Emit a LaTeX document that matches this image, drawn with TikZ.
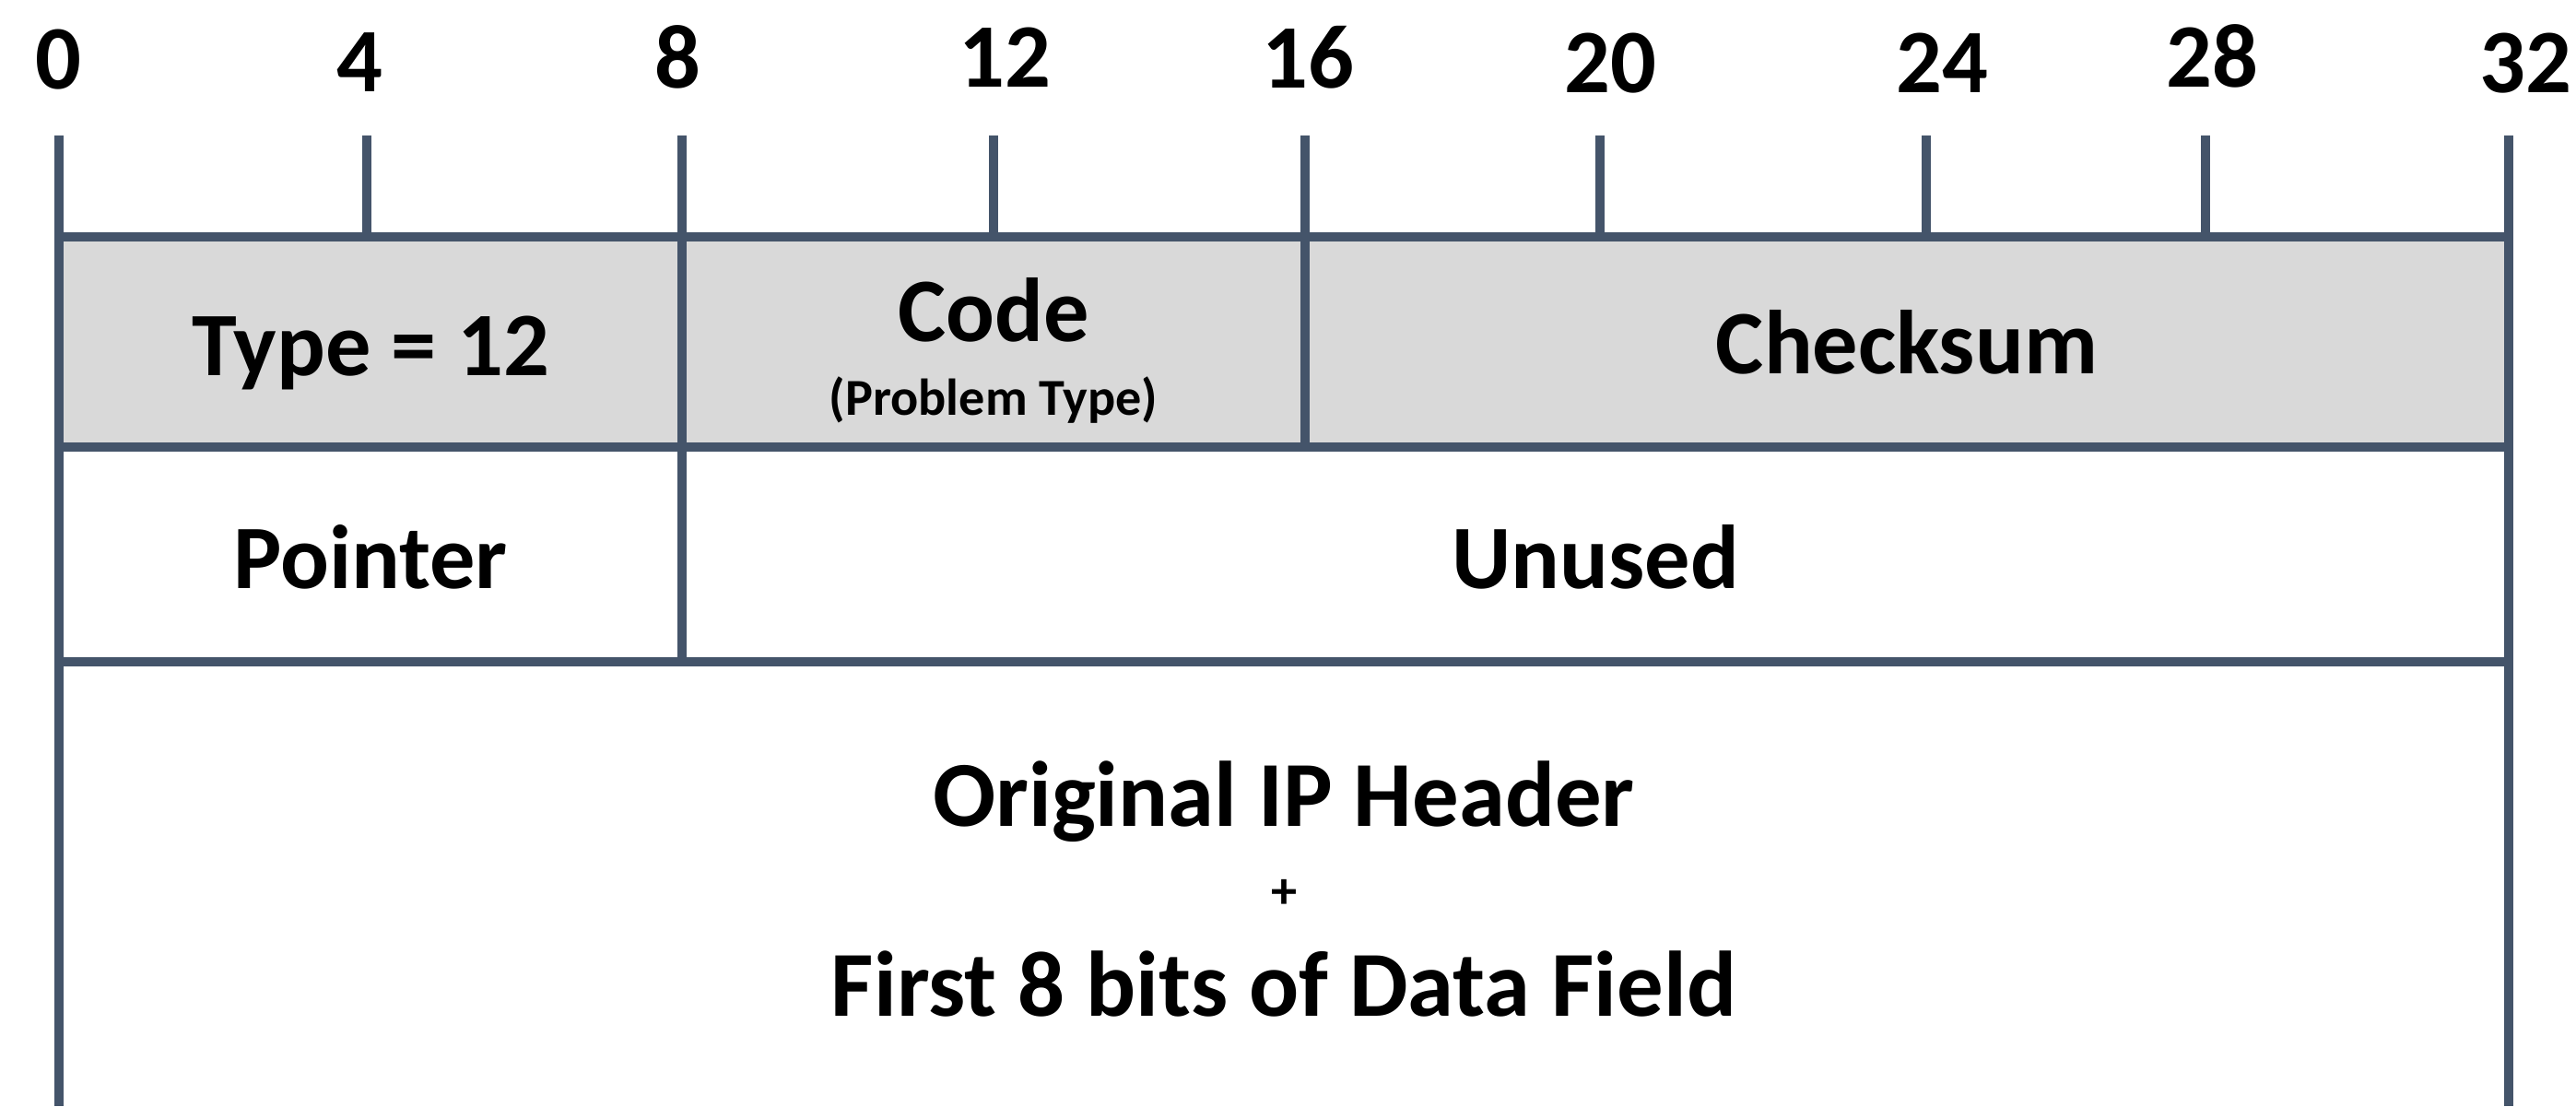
\documentclass[tikz,border=0pt]{standalone}
\usepackage{fontspec}
\setmainfont{Carlito}
\definecolor{gridline}{HTML}{44546A}
\definecolor{headfill}{HTML}{D9D9D9}
\begin{document}
\begin{tikzpicture}

\tikzstyle{field} = [font=\fontsize{28}{30}\selectfont\bfseries, text=black, anchor=base, inner sep=0pt]
\tikzstyle{bigfield} = [font=\fontsize{28.7}{30}\selectfont\bfseries, text=black, anchor=base, inner sep=0pt]
\tikzstyle{note} = [font=\fontsize{16}{18}\selectfont\bfseries, text=black, anchor=base, inner sep=0pt]
\tikzstyle{bitnum} = [font=\fontsize{28}{30}\selectfont\bfseries, text=black, anchor=base, inner sep=0pt]
\tikzstyle{rule} = [draw=gridline, line width=2.8pt]

\useasboundingbox (0,0) rectangle (27.95,-12);

% grey first word
\fill [headfill] (0.64,-2.57) rectangle (27.22,-4.85);

% bit numbers
\node (n0) [bitnum] at (0.63,-0.96) {0};
\node (n4) [bitnum] at (3.90,-0.99) {4};
\node (n8) [bitnum] at (7.35,-0.95) {8};
\node (n12) [bitnum] at (10.90,-0.94) {12};
\node (n16) [bitnum] at (14.19,-0.95) {16};
\node (n20) [bitnum] at (17.47,-1.00) {20};
\node (n24) [bitnum] at (21.07,-1.00) {24};
\node (n28) [bitnum] at (24.00,-0.94) {28};
\node (n32) [bitnum] at (27.40,-1.00) {32};

% ticks
\draw [rule] (3.98,-1.47) -- (3.98,-2.57);
\draw [rule] (10.78,-1.47) -- (10.78,-2.57);
\draw [rule] (17.36,-1.47) -- (17.36,-2.57);
\draw [rule] (20.90,-1.47) -- (20.90,-2.57);
\draw [rule] (23.93,-1.47) -- (23.93,-2.57);

% field borders
\draw [rule] (0.64,-1.47) -- (0.64,-12);
\draw [rule] (27.22,-1.47) -- (27.22,-12);
\draw [rule] (7.40,-1.47) -- (7.40,-7.18);
\draw [rule] (14.16,-1.47) -- (14.16,-4.85);
\draw [rule] (0.64,-2.57) -- (27.22,-2.57);
\draw [rule] (0.64,-4.85) -- (27.22,-4.85);
\draw [rule] (0.64,-7.18) -- (27.22,-7.18);

% field labels
\node (type) [field] at (4.02,-4.07) {Type = 12};
\node (code) [field] at (10.78,-3.70) {Code};
\node (codenote) [note] at (10.78,-4.50) {(Problem Type)};
\node (checksum) [field] at (20.69,-4.05) {Checksum};
\node (pointer) [field] at (4.02,-6.38) {Pointer};
\node (unused) [field] at (17.31,-6.38) {Unused};
\node (orig) [bigfield] at (13.93,-8.96) {Original IP Header};
\node (plus) [note, anchor=center] at (13.93,-9.70) {+};
\node (first) [bigfield] at (13.93,-11.02) {First 8 bits of Data Field};

\end{tikzpicture}
\end{document}
